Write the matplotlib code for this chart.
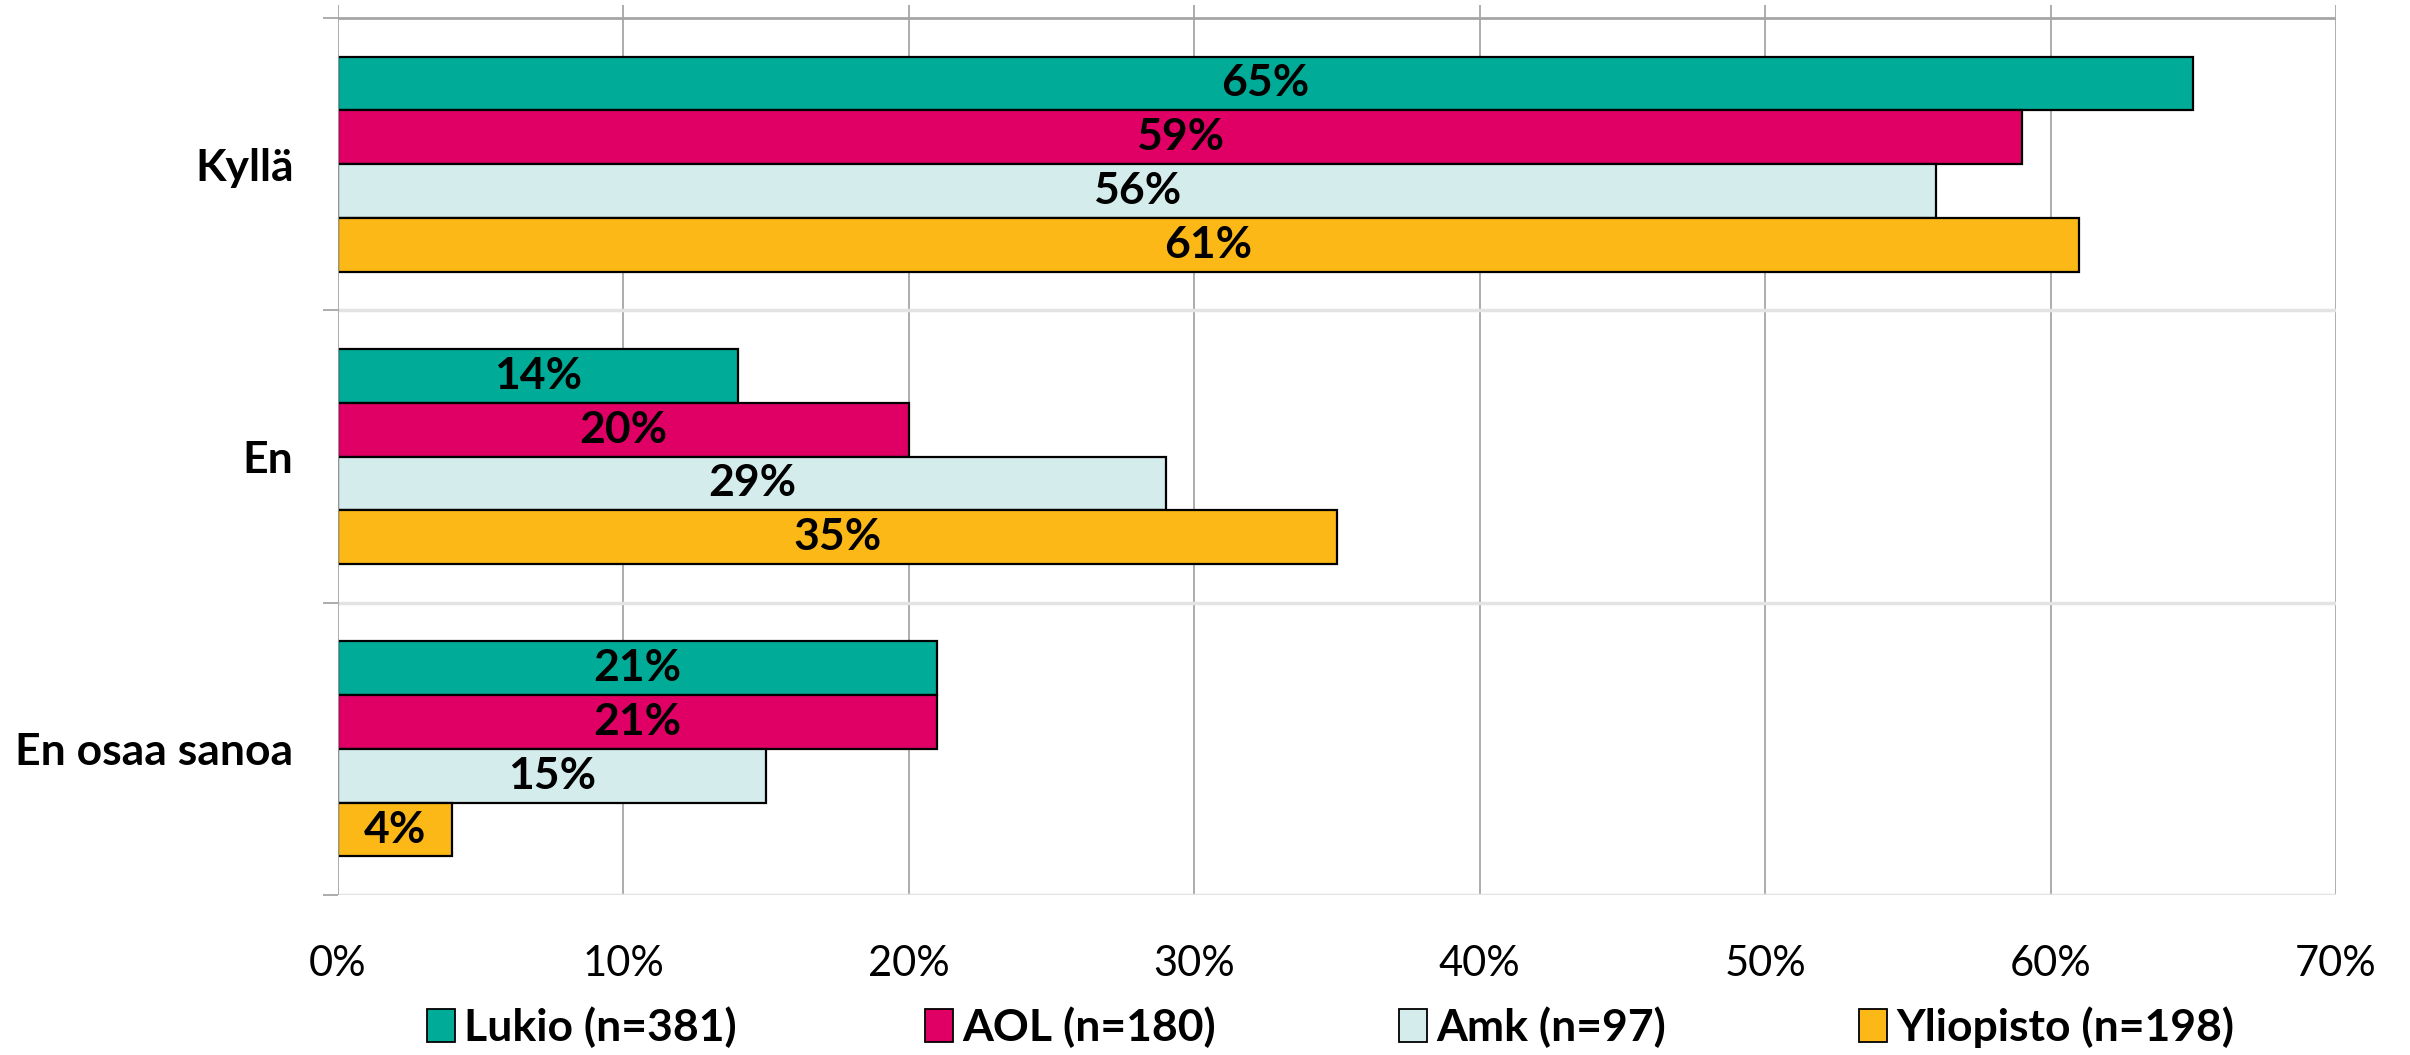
import matplotlib
matplotlib.use("Agg")
import matplotlib.pyplot as plt
from matplotlib.patches import Patch
from matplotlib.ticker import FuncFormatter, FixedLocator
import numpy as np

categories = ["Kyllä", "En", "En osaa sanoa"]
series_names = ["Lukio (n=381)", "AOL (n=180)", "Amk (n=97)", "Yliopisto (n=198)"]
lukio = [65, 14, 21]
aol = [59, 20, 21]
amk = [56, 29, 15]
yliopisto = [61, 35, 4]
values = [lukio, aol, amk, yliopisto]
colors = ["#00AB98", "#E00065", "#D5ECEC", "#FBB817"]
xticks = [0, 10, 20, 30, 40, 50, 60, 70]

plt.rcParams['font.family'] = ['Lato', 'DejaVu Sans']

W, H = 2410, 1055
fig = plt.figure(figsize=(W / 100, H / 100), dpi=100)
ax_top_px, ax_bot_px = 18, 895
unit = (ax_bot_px - ax_top_px) / 3.0
ext = 13 / unit
ax = fig.add_axes([338 / W, 1 - ax_bot_px / H, (2336 - 338) / W,
                   (ax_bot_px - ax_top_px + 13) / H])

bh = 0.184
y = np.arange(len(categories))
for i, (vals, col) in enumerate(zip(values, colors)):
    pos = y + (i - 1.5) * bh
    bars = ax.barh(pos, vals, height=bh, color=col, edgecolor="black",
                   linewidth=1.6, zorder=3)
    for b, v in zip(bars, vals):
        ax.text(v / 2, b.get_y() + bh / 2, f"{v}%", ha="center", va="center",
                fontsize=32, fontweight="bold", color="black", zorder=4)

ax.set_xlim(0, 70)
ax.set_ylim(2.5, -0.5 - ext)

for s in ["top", "bottom", "right", "left"]:
    ax.spines[s].set_visible(False)

for xv in xticks[1:-1]:
    ax.axvline(xv, color="#A6A6A6", linewidth=1.3, zorder=1)
ax.axvline(70, color="#B0B0B0", linewidth=2.2, zorder=1)
ax.axvline(0, color="#A6A6A6", linewidth=1.3, zorder=5)
ax.axhline(-0.5, color="#A6A6A6", linewidth=2.0, zorder=1)
for yb in [0.5, 1.5, 2.5]:
    ax.axhline(yb, color="#E3E3E3", linewidth=2.5, zorder=1)

ax.set_xticks(xticks)
ax.xaxis.set_major_formatter(FuncFormatter(lambda v, p: f"{int(v)}%"))
ax.tick_params(axis="x", length=0, pad=36, labelsize=30)

ax.set_yticks(y)
ax.set_yticklabels(categories, fontsize=32, fontweight="bold")
ax.tick_params(axis="y", which="major", length=0, pad=32)
ax.yaxis.set_minor_locator(FixedLocator([-0.5, 0.5, 1.5, 2.5]))
ax.tick_params(axis="y", which="minor", length=11, width=1.3, color="#A6A6A6")

marker_x = [427, 925, 1399, 1859]
for name, col, mx in zip(series_names, colors, marker_x):
    h = Patch(facecolor=col, edgecolor="black", linewidth=1.3)
    fig.legend([h], [name], loc="center left",
               bbox_to_anchor=(mx / W, 1 - 1027 / H),
               frameon=False, borderpad=0, borderaxespad=0,
               handlelength=0.62, handleheight=0.75, handletextpad=0.22,
               prop={"size": 32, "weight": "bold"})

fig.savefig("out.png", dpi=100)
